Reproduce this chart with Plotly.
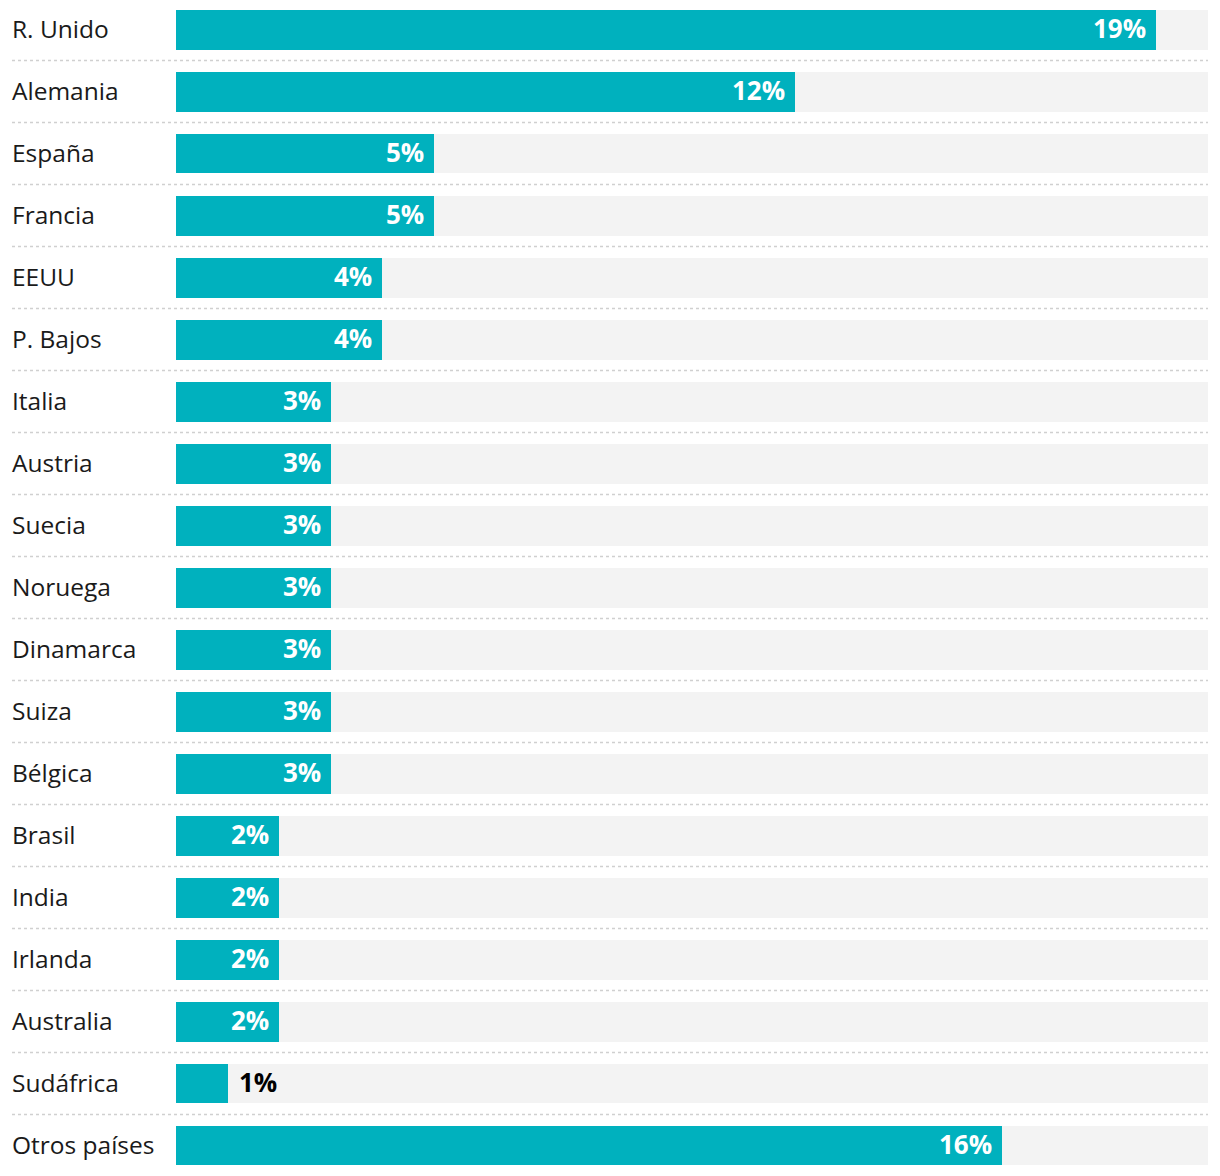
import plotly.graph_objects as go

countries = ["R. Unido", "Alemania", "España", "Francia", "EEUU", "P. Bajos", "Italia",
             "Austria", "Suecia", "Noruega", "Dinamarca", "Suiza", "Bélgica", "Brasil",
             "India", "Irlanda", "Australia", "Sudáfrica", "Otros países"]
values = [19, 12, 5, 5, 4, 4, 3, 3, 3, 3, 3, 3, 3, 2, 2, 2, 2, 1, 16]
max_value = 20

BAR = "#00B1BE"
BG = "#F3F3F3"
FONT = "Open Sans"

fig = go.Figure()
fig.add_trace(go.Bar(y=countries, x=[max_value] * len(countries), orientation="h",
                     marker=dict(color=BG, line=dict(width=0)), width=0.645,
                     hoverinfo="skip", showlegend=False))
fig.add_trace(go.Bar(y=countries, x=values, orientation="h",
                     marker=dict(color=BAR, line=dict(width=0)), width=0.645,
                     showlegend=False))

label_x = (10 - 176) / 1032
line_x = (12 - 176) / 1032
annotations = []
for c, v in zip(countries, values):
    annotations.append(dict(x=label_x, xref="paper", y=c, yref="y", text=c,
                            showarrow=False, xanchor="left", yanchor="middle",
                            yshift=1,
                            font=dict(family=FONT, size=24.5, color="#1a1a1a")))
    inside = v >= 2
    annotations.append(dict(x=v, xref="x", y=c, yref="y", text=f"<b>{v}%</b>",
                            showarrow=False,
                            xanchor="right" if inside else "left",
                            xshift=-8 if inside else 9, yshift=2, yanchor="middle",
                            font=dict(family=FONT, size=26,
                                      color="white" if inside else "black")))

shapes = []
for i in range(len(countries) - 1):
    shapes.append(dict(type="line", xref="paper", yref="y", x0=line_x, x1=1,
                       y0=i + 0.5, y1=i + 0.5,
                       line=dict(color="#D0D0D0", width=1.5, dash="dot")))

top = -0.5 + 1.5 / 62
bottom = top + 1176 / 62

fig.update_layout(
    width=1220, height=1176,
    margin=dict(l=176, r=12, t=0, b=0),
    paper_bgcolor="white", plot_bgcolor="white",
    barmode="overlay", bargap=0,
    xaxis=dict(range=[0, max_value], visible=False, fixedrange=True),
    yaxis=dict(range=[bottom, top], showticklabels=False, showgrid=False,
               zeroline=False, fixedrange=True),
    annotations=annotations, shapes=shapes,
)

fig.write_html("out.html", config={"displayModeBar": False, "staticPlot": True},
               post_script="document.body.style.margin='0';document.body.style.overflow='hidden';")
